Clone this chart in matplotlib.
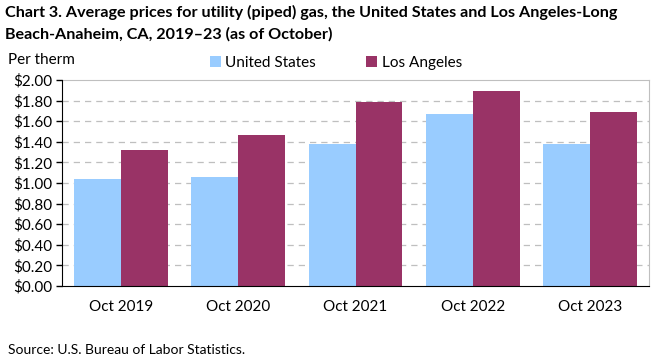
import matplotlib
matplotlib.use("Agg")
import matplotlib.pyplot as plt
import numpy as np

categories = ["Oct 2019", "Oct 2020", "Oct 2021", "Oct 2022", "Oct 2023"]
us_values = [1.04, 1.06, 1.38, 1.67, 1.38]
la_values = [1.32, 1.47, 1.79, 1.89, 1.69]
series_names = ["United States", "Los Angeles"]
yticks = [0.0, 0.2, 0.4, 0.6, 0.8, 1.0, 1.2, 1.4, 1.6, 1.8, 2.0]

US_COLOR = "#99CCFF"
LA_COLOR = "#993366"
FONT = ["Lato", "DejaVu Sans"]
plt.rcParams['font.family'] = FONT

fig = plt.figure(figsize=(6.61, 3.61), dpi=100)
ax = fig.add_axes([62/661, 1-286/361, (649-62)/661, (286-80)/361])

x = np.arange(len(categories))
w = 0.4
b1 = ax.bar(x - w/2, us_values, width=w, color=US_COLOR, zorder=3, label=series_names[0])
b2 = ax.bar(x + w/2, la_values, width=w, color=LA_COLOR, zorder=3, label=series_names[1])

ax.set_xlim(-0.5, len(categories) - 0.5)
ax.set_ylim(0, 2.0)
ax.set_yticks(yticks)
ax.set_yticklabels([f"${v:.2f}" for v in yticks], fontsize=11)
ax.set_xticks(x)
ax.set_xticklabels(categories, fontsize=11)
ax.tick_params(axis='x', length=0, pad=10)
ax.tick_params(axis='y', length=4, width=1, color='black', pad=3)

for v in yticks[1:-1]:
    ax.axhline(v, color="#BFBFBF", linestyle=(0, (5, 4)), linewidth=0.9, zorder=1)

ax.spines['left'].set_color('black')
ax.spines['bottom'].set_color('black')
ax.spines['top'].set_color('#BFBFBF')
ax.spines['right'].set_color('#BFBFBF')
ax.spines['left'].set_zorder(4)
ax.spines['bottom'].set_zorder(4)

fig.text(5/661, 1-12/361, "Chart 3. Average prices for utility (piped) gas, the United States and Los Angeles-Long",
         fontsize=11.6, fontweight='bold', va='center', ha='left')
fig.text(5/661, 1-34/361, "Beach-Anaheim, CA, 2019\u201323 (as of October)",
         fontsize=11.6, fontweight='bold', va='center', ha='left')
fig.text(8/661, 1-60/361, "Per therm", fontsize=11, va='center', ha='left')
fig.text(8/661, 1-350/361, "Source: U.S. Bureau of Labor Statistics.", fontsize=10, va='center', ha='left')

fig.legend(handles=[b1, b2], labels=series_names,
           loc='center', bbox_to_anchor=(336/661, 1-63/361), ncol=2, frameon=False,
           fontsize=11, handlelength=0.7, handleheight=0.7, handletextpad=0.3, columnspacing=3.3)

fig.savefig("out.png", dpi=100)
